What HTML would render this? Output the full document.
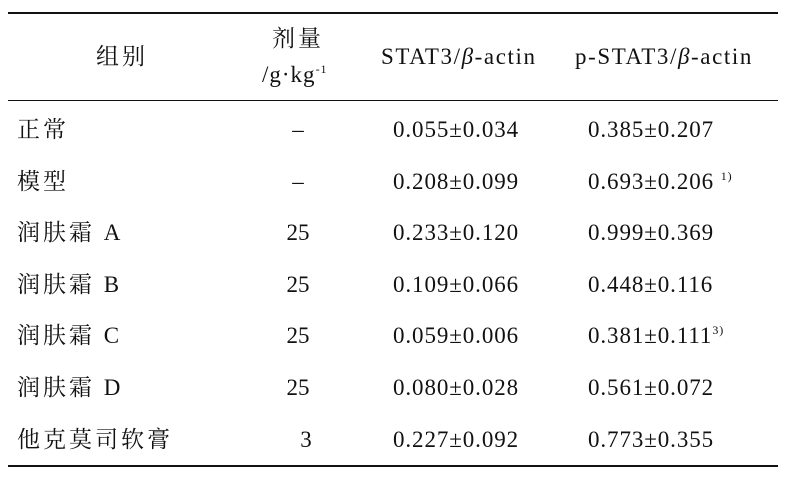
<!DOCTYPE html>
<html><head><meta charset="utf-8"><style>
body{margin:0;background:#fff;}
#t{position:relative;width:788px;height:479px;font-family:"Liberation Serif","Noto Serif CJK SC",serif;font-size:23px;color:#111;}
.c{position:absolute;white-space:nowrap;line-height:26px;height:26px;}
.rule{position:absolute;left:8px;width:770px;background:#111;}
sup{font-size:12px;vertical-align:baseline;position:relative;top:-9px;line-height:0;}
</style></head><body>
<div id="t">
<div class="rule" style="top:12px;height:2px"></div>
<div class="rule" style="top:100px;height:1px"></div>
<div class="rule" style="top:465px;height:2px"></div>
<div class="c" style="left:96px;top:44px;letter-spacing:3px">组别</div>
<div class="c" style="left:272px;top:26px;letter-spacing:3px">剂量</div>
<div class="c" style="left:262px;top:62px;letter-spacing:1px">/g·kg<sup>-1</sup></div>
<div class="c" style="left:381px;top:44px;letter-spacing:1.6px">STAT3/<i>β</i>-actin</div>
<div class="c" style="left:575px;top:44px;letter-spacing:1.6px">p-STAT3/<i>β</i>-actin</div>
</div>
<script>
const groups=["正常","模型","润肤霜 A","润肤霜 B","润肤霜 C","润肤霜 D","他克莫司软膏"];
const doses=["–","–","25","25","25","25","3"];
const stat3=["0.055±0.034","0.208±0.099","0.233±0.120","0.109±0.066","0.059±0.006","0.080±0.028","0.227±0.092"];
const pstat3=["0.385±0.207","0.693±0.206","0.999±0.369","0.448±0.116","0.381±0.111","0.561±0.072","0.773±0.355"];
const notes=["","1)","","","3)","",""];
const t=document.getElementById('t');
function cell(txt,left,top,ls,center){
  const d=document.createElement('div');
  d.className='c';d.style.left=left+'px';d.style.top=top+'px';d.style.letterSpacing=ls+'px';
  if(center){d.style.width='60px';d.style.textAlign='center';}
  d.innerHTML=txt;t.appendChild(d);return d;
}
groups.forEach((g,i)=>{
  const top=117+i*51.6;
  let e=cell(g,17,top,3,false);
  
  
  e=cell(doses[i],i==6?276:268,top,0,true);
  
  
  e=cell(stat3[i],393,top,0.9,false);
  
  
  e=cell(pstat3[i]+(notes[i]?(i==1?' ':'')+'<sup>'+notes[i]+'</sup>':''),588,top,0.9,false);
  
  
});
</script>
</body></html>
